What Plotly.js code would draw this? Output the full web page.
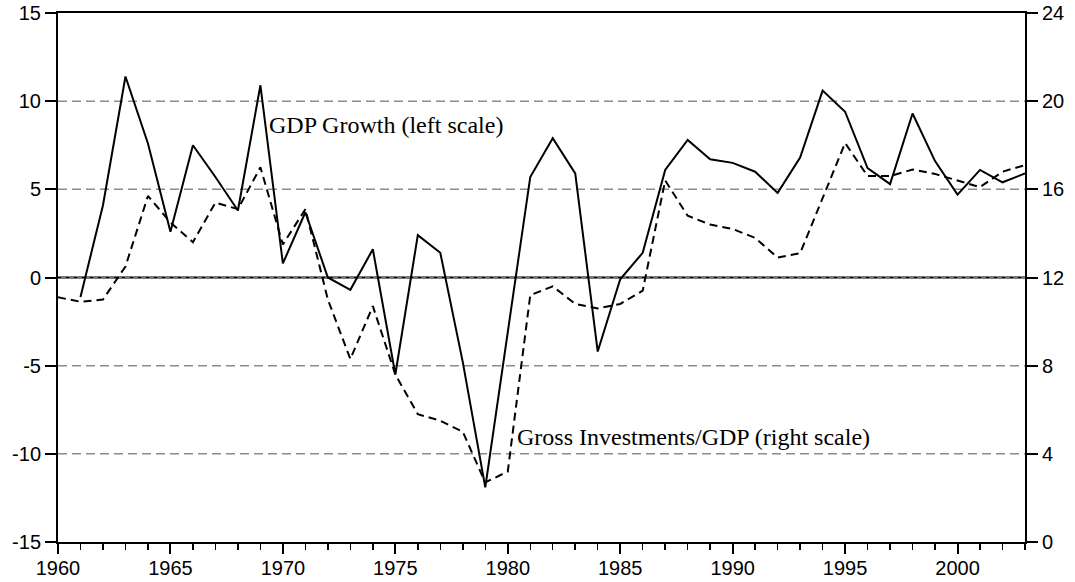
<!DOCTYPE html>
<html>
<head>
<meta charset="utf-8">
<script src="https://cdn.plot.ly/plotly-3.0.1.min.js"></script>
<style>
  html, body { margin: 0; padding: 0; background: #fff; }
  #chart { width: 1075px; height: 582px; }
</style>
</head>
<body>
<div id="chart"></div>
<script>
// Years covered by the two series
const gdpYears = [1961,1962,1963,1964,1965,1966,1967,1968,1969,1970,1971,1972,1973,1974,1975,1976,1977,1978,1979,1980,1981,1982,1983,1984,1985,1986,1987,1988,1989,1990,1991,1992,1993,1994,1995,1996,1997,1998,1999,2000,2001,2002,2003];
const invYears = [1960,1961,1962,1963,1964,1965,1966,1967,1968,1969,1970,1971,1972,1973,1974,1975,1976,1977,1978,1979,1980,1981,1982,1983,1984,1985,1986,1987,1988,1989,1990,1991,1992,1993,1994,1995,1996,1997,1998,1999,2000,2001,2002,2003];

// GDP growth, % (left scale)
const gdpGrowth = [-1.1,4.1,11.4,7.6,2.6,7.5,5.7,3.8,10.9,0.8,3.7,0.0,-0.7,1.6,-5.5,2.4,1.4,-4.8,-11.9,-3.1,5.7,7.9,5.9,-4.2,-0.1,1.4,6.1,7.8,6.7,6.5,6.0,4.8,6.8,10.6,9.4,6.2,5.3,9.3,6.6,4.7,6.1,5.4,5.9];

// Gross investments / GDP, % (right scale)
const investShare = [11.1,10.9,11.0,12.5,15.7,14.5,13.6,15.4,15.1,17.0,13.5,15.1,11.0,8.3,10.7,7.6,5.8,5.5,5.0,2.7,3.2,11.2,11.6,10.8,10.6,10.8,11.4,16.4,14.8,14.4,14.2,13.8,12.9,13.1,15.6,18.1,16.6,16.6,16.9,16.7,16.4,16.1,16.8,17.1];

// Axis ticks
const leftTicks = [-15,-10,-5,0,5,10,15];
const leftTickText = ['-15','-10','-5','0','5','10','15'];
const rightTicks = [0,4,8,12,16,20,24];
const xTicks = [1960,1965,1970,1975,1980,1985,1990,1995,2000];

const tickFont = {family: 'Arial, "Liberation Sans", sans-serif', size: 20, color: '#000'};
const labelFont = {family: '"Times New Roman", "Liberation Serif", serif', size: 24, color: '#000'};

const traces = [
  {
    x: invYears, y: investShare, yaxis: 'y2', type: 'scatter', mode: 'lines',
    line: {color: '#000', width: 2, dash: '8px,5px'}, hoverinfo: 'x+y'
  },
  {
    x: gdpYears, y: gdpGrowth, type: 'scatter', mode: 'lines',
    line: {color: '#000', width: 2}, hoverinfo: 'x+y'
  }
];

// Dashed gray guide lines at the interior ticks, solid+dotted line at zero
const gridLevels = [-10, -5, 5, 10];
const shapes = gridLevels.map(v => ({
  type: 'line', xref: 'paper', yref: 'y', x0: 0, x1: 1, y0: v, y1: v,
  line: {color: '#8c8c8c', width: 1.5, dash: '9px,5px'}, layer: 'below'
}));
shapes.push({
  type: 'line', xref: 'paper', yref: 'y', x0: 0, x1: 1, y0: 0, y1: 0,
  line: {color: '#777', width: 3}, layer: 'below'
});
shapes.push({
  type: 'line', xref: 'paper', yref: 'y', x0: 0, x1: 1, y0: 0, y1: 0,
  line: {color: '#000', width: 1, dash: '3px,5px'}, layer: 'below'
});

const layout = {
  width: 1075, height: 582,
  margin: {l: 58, r: 50, t: 13, b: 40},
  paper_bgcolor: '#fff', plot_bgcolor: '#fff',
  showlegend: false,
  xaxis: {
    range: [1960, 2003], tickmode: 'array', tickvals: xTicks,
    ticks: 'outside', ticklen: 10, tickwidth: 2, tickcolor: '#000',
    ticklabelstandoff: -3,
    minor: {dtick: 1, tick0: 1960, ticks: 'outside', ticklen: 6, tickwidth: 1.5, tickcolor: '#000', showgrid: false},
    showgrid: false, zeroline: false,
    showline: true, linecolor: '#000', linewidth: 2, mirror: true,
    tickfont: tickFont, fixedrange: true
  },
  yaxis: {
    range: [-15, 15], tickmode: 'array', tickvals: leftTicks, ticktext: leftTickText,
    ticks: 'outside', ticklen: 11, tickwidth: 2, tickcolor: '#000',
    showgrid: false, zeroline: false,
    showline: true, linecolor: '#000', linewidth: 2,
    tickfont: tickFont, fixedrange: true
  },
  yaxis2: {
    range: [0, 24], tickmode: 'array', tickvals: rightTicks,
    overlaying: 'y', side: 'right',
    ticks: 'outside', ticklen: 11, tickwidth: 2, tickcolor: '#000',
    showgrid: false, zeroline: false,
    showline: true, linecolor: '#000', linewidth: 2,
    tickfont: tickFont, fixedrange: true
  },
  shapes: shapes,
  annotations: [
    {text: 'GDP Growth (left scale)', x: 1969.3, y: 8.65, xref: 'x', yref: 'y',
     xanchor: 'left', yanchor: 'middle', showarrow: false, font: labelFont},
    {text: 'Gross Investments/GDP (right scale)', x: 1980.3, y: -9.05, xref: 'x', yref: 'y',
     xanchor: 'left', yanchor: 'middle', showarrow: false, font: labelFont}
  ]
};

Plotly.newPlot('chart', traces, layout, {displayModeBar: false, staticPlot: true});
</script>
</body>
</html>
